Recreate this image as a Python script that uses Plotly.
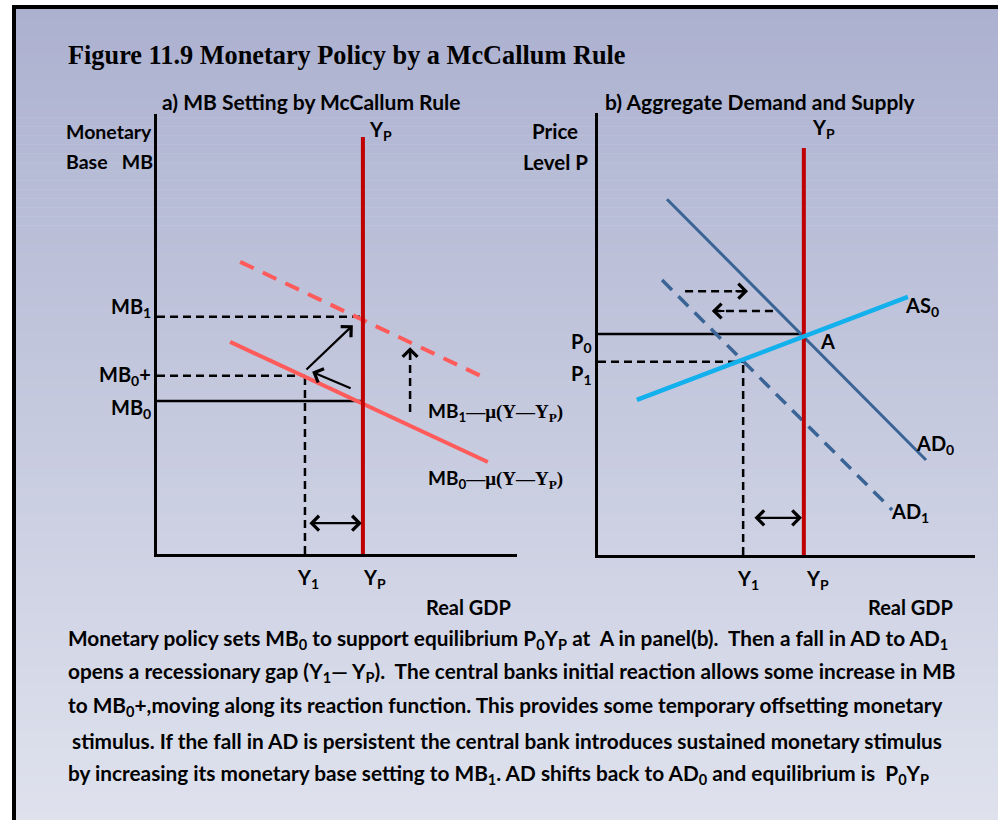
import plotly.graph_objects as go

W, H = 998, 820

# ---------------- data (conceptual units, each panel axis runs 0-100) ----------------
# Panel a) MB setting by McCallum rule
a_Y1, a_YP = 41.1, 57.2                 # output levels on the Real GDP axis
a_MB0, a_MB0plus, a_MB1 = 34.8, 40.5, 53.9
a_YP_top = 94.8                          # top of the potential-output line
a_rule0_x = [20.3, 91.9]                 # MB0 - mu(Y - YP)  (solid)
a_rule0_y = [48.2, 20.9]
a_rule1_x = [23.1, 91.7]                 # MB1 - mu(Y - YP)  (dashed)
a_rule1_y = [66.4, 39.8]
a_move_along = [(54.2, 37.5), (43.1, 41.4)]   # arrow along the reaction function (tail, head)
a_move_up = [(41.1, 41.6), (54.4, 52.0)]      # arrow up to MB1 (tail, head)
a_shift_x = 70.3                               # dashed upward shift arrow
a_shift_y = [32.3, 47.0]
a_gap_y = 7.0                                  # recessionary-gap double arrow
a_gap_x = [41.9, 56.9]

# Panel b) Aggregate demand and supply
b_Y1, b_YP = 38.5, 54.6
b_P0, b_P1 = 50.0, 43.7
b_YP_top = 92.1
b_AS0_x = [10.3, 82.2]
b_AS0_y = [35.1, 58.4]
b_AD0_x = [18.3, 87.0]
b_AD0_y = [80.5, 21.5]
b_AD1_x = [17.0, 78.0]
b_AD1_y = [62.2, 10.2]
b_shift_right_y, b_shift_right_x = 59.7, [23.1, 39.8]
b_shift_left_y, b_shift_left_x = 55.2, [46.4, 30.2]
b_gap_y = 8.4
b_gap_x = [41.1, 54.1]

title_text = "Figure 11.9 Monetary Policy by a McCallum Rule"
panel_titles = ["a) MB Setting by McCallum Rule", "b) Aggregate Demand and Supply"]
caption_lines = [
    "Monetary policy sets MB<sub>0</sub> to support equilibrium P<sub>0</sub>Y<sub>P</sub> at \u00a0A in panel(b). \u00a0Then a fall in AD to AD<sub>1</sub>",
    "opens a recessionary gap (Y<sub>1</sub>\u2014 Y<sub>P</sub>). \u00a0The central banks initial reaction allows some increase in MB",
    "to MB<sub>0</sub>+,moving along its reaction function. This provides some temporary offsetting monetary",
    "stimulus. If the fall in AD is persistent the central bank introduces sustained monetary stimulus",
    "by increasing its monetary base setting to MB<sub>1</sub>. AD shifts back to AD<sub>0</sub> and equilibrium is \u00a0P<sub>0</sub>Y<sub>P</sub>",
]

# ---------------- styles ----------------
SANS = "Lato"
SERIF = "Liberation Serif"
BLACK = "#000000"
YP_RED = "#c00000"
RULE_RED = "#ff5b5b"
AD_BLUE = "#3b6496"
AS_BLUE = "#12b0ec"
LBL = 20

fig = go.Figure()

def line(x, y, color, width, dash="solid", xa="x", ya="y"):
    fig.add_trace(go.Scatter(x=x, y=y, mode="lines", xaxis=xa, yaxis=ya,
                             line=dict(color=color, width=width, dash=dash),
                             hoverinfo="skip", showlegend=False))

# ----- panel a -----
line([0, a_Y1], [a_MB0plus, a_MB0plus], BLACK, 2.5, "8px,5px")
line([0, a_YP], [a_MB1, a_MB1], BLACK, 2.5, "8px,5px")
line([0, a_YP], [a_MB0, a_MB0], BLACK, 2.5)
line([a_Y1, a_Y1], [0, a_MB0plus], BLACK, 2.5, "8px,5px")
line(a_rule1_x, a_rule1_y, RULE_RED, 4, "15px,10px")
line(a_rule0_x, a_rule0_y, RULE_RED, 4)
line([a_shift_x, a_shift_x], a_shift_y, BLACK, 2.5, "8px,5px")
line([a_YP, a_YP], [0, a_YP_top], YP_RED, 4)

# ----- panel b -----
line([0, b_YP], [b_P0, b_P0], BLACK, 2.5, xa="x2", ya="y2")
line([0, b_Y1], [b_P1, b_P1], BLACK, 2.5, "8px,5px", "x2", "y2")
line([b_Y1, b_Y1], [0, b_P1], BLACK, 2.5, "8px,5px", "x2", "y2")
line(b_shift_right_x, [b_shift_right_y] * 2, BLACK, 2.5, "8px,5px", "x2", "y2")
line(b_shift_left_x, [b_shift_left_y] * 2, BLACK, 2.5, "8px,5px", "x2", "y2")
line(b_AD1_x, b_AD1_y, AD_BLUE, 3.5, "14px,9px", "x2", "y2")
line(b_AD0_x, b_AD0_y, AD_BLUE, 3, xa="x2", ya="y2")
line([b_YP, b_YP], [0, b_YP_top], YP_RED, 4, xa="x2", ya="y2")
line(b_AS0_x, b_AS0_y, AS_BLUE, 4.5, xa="x2", ya="y2")

ann = []

def arrow(tail, head, xa="x", ya="y", both=False):
    ann.append(dict(x=head[0], y=head[1], ax=tail[0], ay=tail[1],
                    xref=xa, yref=ya, axref=xa, ayref=ya, text="", showarrow=True,
                    arrowhead=4, startarrowhead=4, arrowsize=1.3, startarrowsize=1.3,
                    arrowwidth=2.2, arrowcolor=BLACK,
                    arrowside="end+start" if both else "end"))

def head_only(x, y, dx, dy, xa="x", ya="y"):
    ann.append(dict(x=x, y=y, ax=dx, ay=dy, xref=xa, yref=ya, axref="pixel", ayref="pixel",
                    text="", showarrow=True,
                    arrowhead=4, arrowsize=1.3, arrowwidth=2.2, arrowcolor=BLACK))

arrow(a_move_along[0], a_move_along[1])
arrow(a_move_up[0], a_move_up[1])
head_only(a_shift_x, a_shift_y[1], 0, 14)
arrow((a_gap_x[0], a_gap_y), (a_gap_x[1], a_gap_y), both=True)
head_only(b_shift_right_x[1], b_shift_right_y, -14, 0, "x2", "y2")
head_only(b_shift_left_x[1], b_shift_left_y, 14, 0, "x2", "y2")
arrow((b_gap_x[0], b_gap_y), (b_gap_x[1], b_gap_y), "x2", "y2", both=True)

def label(text, x, y, xa, ya, xanchor="center", size=LBL, xshift=0, yshift=0, family=SANS):
    ann.append(dict(text=text, x=x, y=y, xref=xa, yref=ya, xanchor=xanchor, yanchor="middle",
                    showarrow=False, xshift=xshift, yshift=yshift,
                    font=dict(family=family, size=size, color=BLACK, weight="bold")))

def px(x):
    return x / W

def py(y):
    return 1 - y / H

# titles
label(title_text, px(66), py(55), "paper", "paper", "left", 26.3, family=SERIF)
label(panel_titles[0], px(311), py(101), "paper", "paper", size=21)
label(panel_titles[1], px(760), py(101), "paper", "paper", size=21)

# panel a labels
label("Monetary", px(64), py(131), "paper", "paper", "left", 19.5)
label("Base \u00a0\u00a0MB", px(64), py(162), "paper", "paper", "left", 19.5)
label("Y<sub>P</sub>", a_YP, a_YP_top, "x", "y", "left", xshift=4, yshift=6)
label("MB<sub>1</sub>", 0, a_MB1, "x", "y", "right", xshift=-4, yshift=9)
label("MB<sub>0</sub>+", 0, a_MB0plus, "x", "y", "right", xshift=-4, yshift=0)
label("MB<sub>0</sub>", 0, a_MB0, "x", "y", "right", xshift=-4, yshift=-8)
rule_tail = "<span style='font-family:Liberation Serif;font-size:19px'>\u2014\u03bc(Y\u2014Y<sub>P</sub>)</span>"
label("MB<sub>1</sub>" + rule_tail, a_shift_x, a_shift_y[0], "x", "y", "left", 19, xshift=16)
label("MB<sub>0</sub>" + rule_tail, a_shift_x, a_rule0_y[1], "x", "y", "left", 19, xshift=16, yshift=-17)
label("Y<sub>1</sub>", a_Y1, 0, "x", "y", "center", xshift=3, yshift=-24)
label("Y<sub>P</sub>", a_YP, 0, "x", "y", "center", xshift=12, yshift=-24)
label("Real GDP", px(468), py(607), "paper", "paper")

# panel b labels
label("Price", px(555), py(131), "paper", "paper", size=20.5)
label("Level P", px(555), py(162), "paper", "paper", size=20.5)
label("Y<sub>P</sub>", b_YP, b_YP_top, "x2", "y2", "left", xshift=6, yshift=19)
label("P<sub>0</sub>", 0, b_P0, "x2", "y2", "right", xshift=-4, yshift=-8)
label("P<sub>1</sub>", 0, b_P1, "x2", "y2", "right", xshift=-4, yshift=-13)
label("A", b_YP, b_P0, "x2", "y2", "center", xshift=24, yshift=-7)
label("AS<sub>0</sub>", b_AS0_x[1], b_AS0_y[1], "x2", "y2", "left", xshift=-5, yshift=-10)
label("AD<sub>0</sub>", b_AD0_x[1], b_AD0_y[1], "x2", "y2", "left", xshift=-12, yshift=15)
label("AD<sub>1</sub>", b_AD1_x[1], b_AD1_y[1], "x2", "y2", "left", xshift=-3, yshift=-3)
label("Y<sub>1</sub>", b_Y1, 0, "x2", "y2", "center", xshift=5, yshift=-24)
label("Y<sub>P</sub>", b_YP, 0, "x2", "y2", "center", xshift=14, yshift=-24)
label("Real GDP", px(910), py(607), "paper", "paper")

# caption
cap_y = [639, 672, 706, 740, 774]
for i, (t, yy) in enumerate(zip(caption_lines, cap_y)):
    label(t, px(70 if i == 3 else 66), py(yy), "paper", "paper", "left", 20.8)

# background gradient + frame
shapes = []
top_rgb = (172, 177, 208)
bot_rgb = (223, 226, 237)
n = 90
y0, y1 = 9, H
for i in range(n):
    t = (i + 0.5) / n
    c = tuple(round(a + (b - a) * t) for a, b in zip(top_rgb, bot_rgb))
    ya = y0 + (y1 - y0) * i / n
    yb = y0 + (y1 - y0) * (i + 1) / n + 0.6
    shapes.append(dict(type="rect", xref="paper", yref="paper", x0=px(16), x1=1,
                       y0=py(yb), y1=py(ya), line=dict(width=0),
                       fillcolor="rgb(%d,%d,%d)" % c, layer="below"))
shapes.append(dict(type="rect", xref="paper", yref="paper", x0=px(12), x1=px(16),
                   y0=0, y1=py(5), line=dict(width=0), fillcolor=BLACK, layer="below"))
shapes.append(dict(type="rect", xref="paper", yref="paper", x0=px(12), x1=1,
                   y0=py(9), y1=py(5), line=dict(width=0), fillcolor=BLACK, layer="below"))

axis_common = dict(range=[0, 100], showgrid=False, zeroline=False, showticklabels=False,
                   ticks="", showline=True, linecolor=BLACK, linewidth=3, fixedrange=True)

fig.update_layout(
    width=W, height=H, margin=dict(l=0, r=0, t=0, b=0),
    paper_bgcolor="white", plot_bgcolor="rgba(0,0,0,0)",
    showlegend=False, shapes=shapes, annotations=ann,
    xaxis=dict(domain=[157 / W, 517 / W], anchor="y", **axis_common),
    yaxis=dict(domain=[1 - 554 / H, 1 - 114 / H], anchor="x", **axis_common),
    xaxis2=dict(domain=[598 / W, 975 / W], anchor="y2", **axis_common),
    yaxis2=dict(domain=[1 - 555 / H, 1 - 113 / H], anchor="x2", **axis_common),
)

fig.write_html("out.html", config=dict(displayModeBar=False),
               post_script="document.body.style.margin='0';document.body.style.overflow='hidden';")
